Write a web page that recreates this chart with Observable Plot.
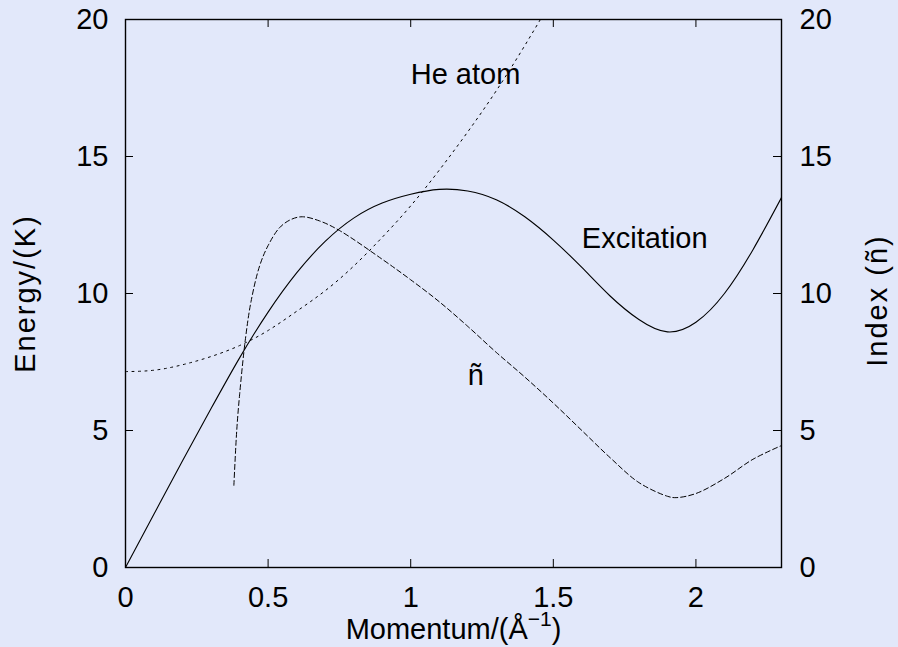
<!DOCTYPE html>
<html>
<head>
<meta charset="utf-8">
<script src="https://cdn.jsdelivr.net/npm/d3@7"></script>
<script src="https://cdn.jsdelivr.net/npm/@observablehq/plot@0.6"></script>
<style>
  html, body { margin: 0; padding: 0; background: #e2e8fa; }
  #chart { width: 898px; height: 647px; }
</style>
</head>
<body>
<div id="chart"></div>
<script>
// Momentum (1/Å) sample points and the three curves drawn against them
const excitationK = [0, 0.1, 0.2, 0.3, 0.4, 0.5, 0.6, 0.7, 0.8, 0.9, 1.0, 1.1, 1.2, 1.3, 1.4, 1.5, 1.6, 1.7, 1.8, 1.9, 2.0, 2.1, 2.2, 2.3];
const excitationE = [0, 1.95, 3.9, 5.8, 7.65, 9.32, 10.75, 11.9, 12.75, 13.3, 13.62, 13.8, 13.74, 13.42, 12.8, 11.95, 10.95, 9.9, 9.05, 8.6, 8.95, 10.0, 11.6, 13.5];

const heAtomK = [0, 0.1, 0.2, 0.3, 0.4, 0.5, 0.6, 0.7, 0.8, 0.9, 1.0, 1.1, 1.2, 1.3, 1.4, 1.5];
const heAtomE = [7.15, 7.2, 7.4, 7.7, 8.1, 8.65, 9.35, 10.1, 11.0, 12.05, 13.2, 14.5, 15.9, 17.4, 19.05, 20.8];

const indexK = [0.38, 0.39, 0.40, 0.42, 0.44, 0.47, 0.50, 0.54, 0.58, 0.62, 0.68, 0.75, 0.9, 1.0, 1.1, 1.2, 1.3, 1.4, 1.5, 1.6, 1.7, 1.8, 1.9, 1.93, 2.0, 2.1, 2.2, 2.3];
const indexN = [3.0, 5.0, 6.3, 8.3, 9.7, 11.0, 11.75, 12.4, 12.7, 12.8, 12.65, 12.3, 11.25, 10.5, 9.7, 8.8, 7.85, 6.95, 6.0, 5.0, 4.0, 3.1, 2.6, 2.55, 2.7, 3.25, 3.95, 4.45];

// Axis ticks
const xTicks = [0, 0.5, 1, 1.5, 2];
const xTickLabels = ["0", "0.5", "1", "1.5", "2"];
const yTicks = [0, 5, 10, 15, 20];

// Curve annotations (in data coordinates)
const noteText = ["He atom", "Excitation", "ñ"];
const noteK = [1.0, 1.6, 1.2];
const noteE = [18, 12, 7];

const xLabel = "Momentum/(Å−1)";
const yLabel = "Energy/(K)";
const y2Label = "Index (ñ)";

const excitation = excitationK.map((k, i) => ({k, v: excitationE[i]}));
const heAtom = heAtomK.map((k, i) => ({k, v: heAtomE[i]}));
const index = indexK.map((k, i) => ({k, v: indexN[i]}));
const notes = noteText.map((t, i) => ({t, k: noteK[i], v: noteE[i]}));

const W = 898, H = 647;
const mTop = 19, mRight = 117, mBottom = 80, mLeft = 125;
const innerW = W - mLeft - mRight, innerH = H - mTop - mBottom;
const tick = 8;
const ink = "#000";

const chart = Plot.plot({
  width: W,
  height: H,
  marginTop: mTop,
  marginRight: mRight,
  marginBottom: mBottom,
  marginLeft: mLeft,
  style: {
    background: "#e2e8fa",
    fontFamily: "'Liberation Sans', Arial, Helvetica, sans-serif",
    fontSize: "29px",
    color: ink
  },
  x: {domain: [0, 2.3]},
  y: {domain: [0, 20]},
  marks: [
    // tick labels
    Plot.axisX(xTicks, {anchor: "bottom", tickSize: 0, tickPadding: 19, tickFormat: (d, i) => xTickLabels[i], label: null, fill: ink}),
    Plot.axisY(yTicks, {anchor: "left", tickSize: 0, tickPadding: 17, label: null, fill: ink}),
    Plot.axisY(yTicks, {anchor: "right", tickSize: 0, tickPadding: 18, label: null, fill: ink}),
    // inward-pointing ticks on all four sides
    Plot.tickX(xTicks, {x: d => d, insetTop: innerH - tick, stroke: ink, strokeWidth: 1}),
    Plot.tickX(xTicks, {x: d => d, insetBottom: innerH - tick, stroke: ink, strokeWidth: 1}),
    Plot.tickY(yTicks, {y: d => d, insetRight: innerW - tick, stroke: ink, strokeWidth: 1}),
    Plot.tickY(yTicks, {y: d => d, insetLeft: innerW - tick, stroke: ink, strokeWidth: 1}),
    // curves
    Plot.line(heAtom, {x: "k", y: "v", curve: "natural", stroke: ink, strokeWidth: 1, strokeDasharray: "2,4.5", clip: true}),
    Plot.line(index, {x: "k", y: "v", curve: "catmull-rom", stroke: ink, strokeWidth: 1, strokeDasharray: "5,3", clip: true}),
    Plot.line(excitation, {x: "k", y: "v", curve: "natural", stroke: ink, strokeWidth: 1.1, clip: true}),
    // annotations
    Plot.text(notes, {x: "k", y: "v", text: "t", textAnchor: "start", lineAnchor: "middle", fill: ink}),
    // axis titles
    Plot.text([xLabel], {text: d => d, frameAnchor: "bottom", textAnchor: "middle", dy: 62, lineAnchor: "middle", fill: ink}),
    Plot.text([yLabel], {text: d => d, frameAnchor: "left", textAnchor: "middle", dx: -100, rotate: -90, lineAnchor: "middle", fill: ink}),
    Plot.text([y2Label], {text: d => d, frameAnchor: "right", textAnchor: "middle", dx: 96, dy: 7, rotate: -90, lineAnchor: "middle", fill: ink}),
    Plot.frame({stroke: ink, strokeWidth: 1.4})
  ]
});

document.getElementById("chart").appendChild(chart);

// wider tracking on the vertical titles
d3.select(chart).selectAll("text")
  .filter(function() { return this.textContent === yLabel || this.textContent === y2Label; })
  .style("letter-spacing", "2px");

// raise the exponent in the momentum unit
d3.select(chart).selectAll("text")
  .filter(function() { return this.textContent === xLabel; })
  .each(function() {
    const t = d3.select(this);
    t.text(null);
    t.append("tspan").text("Momentum/(Å");
    t.append("tspan").attr("dy", "-13").attr("font-size", "21px").text("−1");
    t.append("tspan").attr("dy", "13").text(")");
  });
</script>
</body>
</html>
